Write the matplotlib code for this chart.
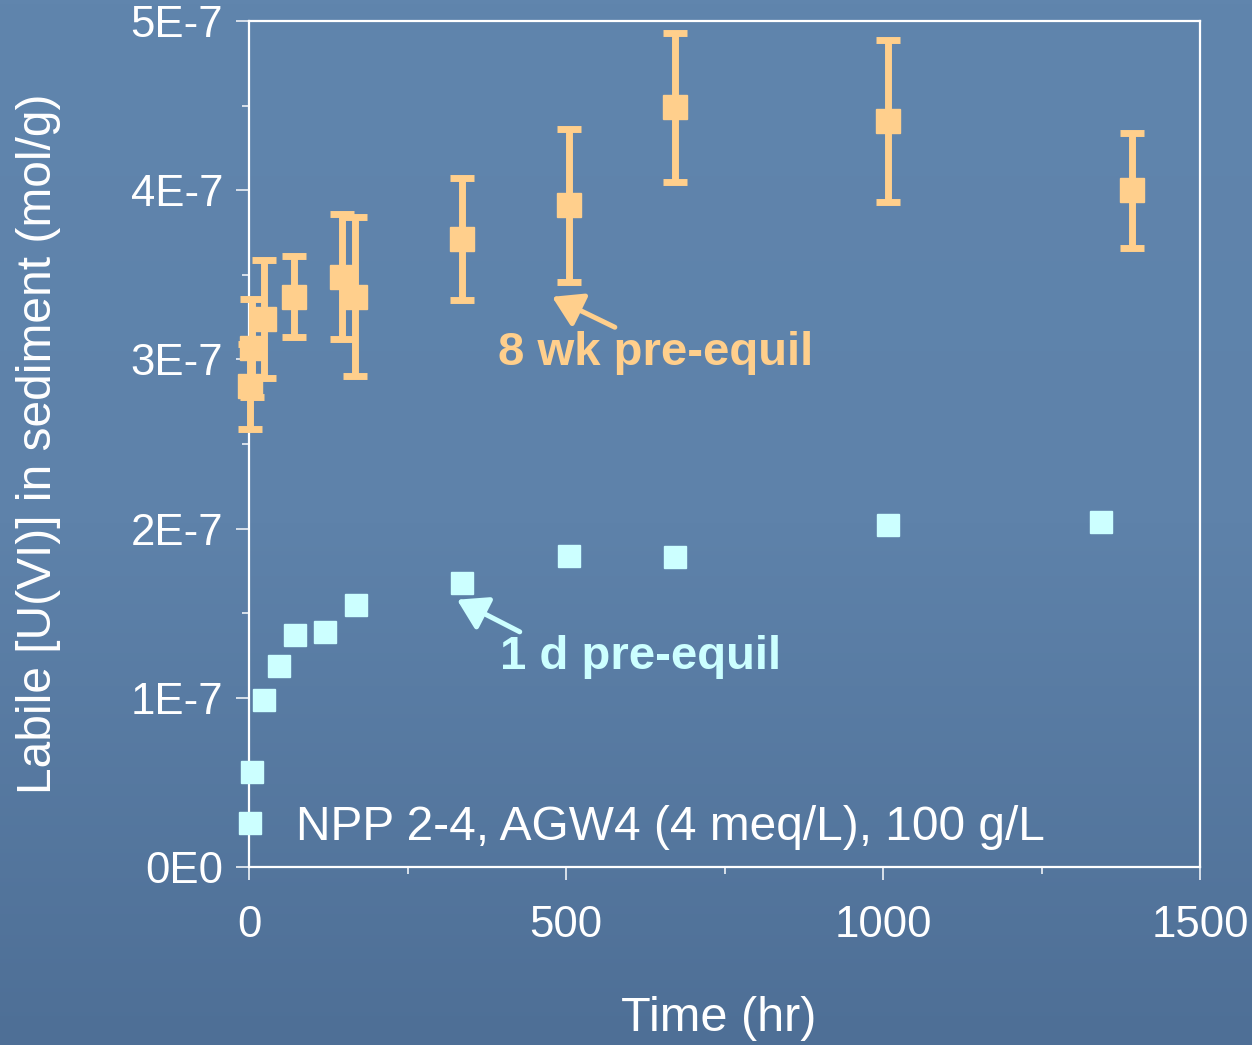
import numpy as np
import matplotlib
matplotlib.use("Agg")
import matplotlib.pyplot as plt

plt.rcParams['font.family'] = ['Liberation Sans', 'DejaVu Sans']

# 8 wk pre-equilibrated sediment (with error bars)
t_8wk = [2, 5, 24, 71, 147, 167, 336, 504, 672, 1008, 1392]
u_8wk = [2.84e-7, 3.07e-7, 3.24e-7, 3.37e-7, 3.49e-7, 3.37e-7, 3.71e-7, 3.91e-7, 4.49e-7, 4.41e-7, 4.00e-7]
err_8wk = [0.25e-7, 0.29e-7, 0.35e-7, 0.24e-7, 0.37e-7, 0.47e-7, 0.36e-7, 0.45e-7, 0.44e-7, 0.48e-7, 0.34e-7]

# 1 d pre-equilibrated sediment
t_1d = [5, 24, 48, 72, 120, 168, 336, 504, 672, 1008, 1344]
u_1d = [0.56e-7, 0.99e-7, 1.19e-7, 1.37e-7, 1.39e-7, 1.55e-7, 1.68e-7, 1.84e-7, 1.83e-7, 2.02e-7, 2.04e-7]

yticks = [0, 1e-7, 2e-7, 3e-7, 4e-7, 5e-7]
ytick_labels = ['0E0', '1E-7', '2E-7', '3E-7', '4E-7', '5E-7']
xticks = [0, 500, 1000, 1500]

orange = '#FFCF8C'
cyan = '#CCFFFF'
white = '#FFFFFF'

fig = plt.figure(figsize=(12.52, 10.45), dpi=100)

# background gradient
bg = fig.add_axes([0, 0, 1, 1], zorder=-10)
grad = np.linspace(0, 1, 256).reshape(-1, 1)
bg.imshow(grad, aspect='auto', extent=[0, 1, 0, 1],
          cmap=matplotlib.colors.LinearSegmentedColormap.from_list('bg', ['#4E6F96', '#5E82AA', '#6085AD']),
          origin='lower')
bg.axis('off')

ax = fig.add_axes([0.1989, 0.1703, 0.7596, 0.8096])
ax.set_facecolor('none')

eb = ax.errorbar(t_8wk, u_8wk, yerr=err_8wk, fmt='s', color=orange, ecolor=orange,
                 markersize=17, elinewidth=5, capsize=8.3, capthick=5, zorder=3)
for a in [eb[0], *eb[1], *eb[2]]:
    a.set_clip_on(False)
pts, = ax.plot(t_1d, u_1d, 's', color=cyan, markersize=16.5, linestyle='none',
               label='NPP 2-4, AGW4 (4 meq/L), 100 g/L', zorder=3)
pts.set_clip_on(False)

ax.set_xlim(0, 1500)
ax.set_ylim(0, 5e-7)
ax.set_xticks(xticks)
ax.set_xticks([250, 750, 1250], minor=True)
ax.set_yticks(yticks)
ax.set_yticklabels(ytick_labels)
ax.set_yticks([0.5e-7, 1.5e-7, 2.5e-7, 3.5e-7, 4.5e-7], minor=True)

for s in ax.spines.values():
    s.set_color(white)
    s.set_linewidth(1.6)

ax.tick_params(which='major', direction='out', length=9.5, width=1.4, color='#D8E0EA',
               labelsize=31.5, labelcolor=white)
ax.tick_params(which='minor', direction='out', length=5, width=1.4, color='#D8E0EA')
ax.tick_params(axis='x', which='major', pad=18)
ax.tick_params(axis='y', which='major', pad=9)

ax.set_xlabel('Time (hr)', fontsize=35, color=white)
ax.xaxis.set_label_coords(0.494, -0.153)
ax.set_ylabel('Labile [U(VI)] in sediment (mol/g)', fontsize=34.5, color=white, labelpad=50)

# labels and arrows
ax.text(642, 3.04e-7, '8 wk pre-equil', fontsize=34, fontweight='bold', color=orange,
        ha='center', va='center')
ax.text(617, 1.24e-7, '1 d pre-equil', fontsize=34, fontweight='bold', color=cyan,
        ha='center', va='center')
ax.annotate('', xy=(478, 3.37e-7), xytext=(577, 3.19e-7),
            arrowprops=dict(arrowstyle='-|>,head_length=0.9,head_width=0.55', color=orange,
                            lw=3.6, mutation_scale=20, shrinkA=0, shrinkB=0))
ax.annotate('', xy=(328, 1.58e-7), xytext=(427, 1.39e-7),
            arrowprops=dict(arrowstyle='-|>,head_length=0.9,head_width=0.55', color=cyan,
                            lw=3.6, mutation_scale=20, shrinkA=0, shrinkB=0))

leg = ax.legend(loc='center left', bbox_to_anchor=(-0.0116, 0.047), frameon=False,
                fontsize=34.5, labelcolor=white, handlelength=0.5, handletextpad=0.72,
                borderpad=0, borderaxespad=0, numpoints=1)

fig.savefig('out.png', dpi=100)
